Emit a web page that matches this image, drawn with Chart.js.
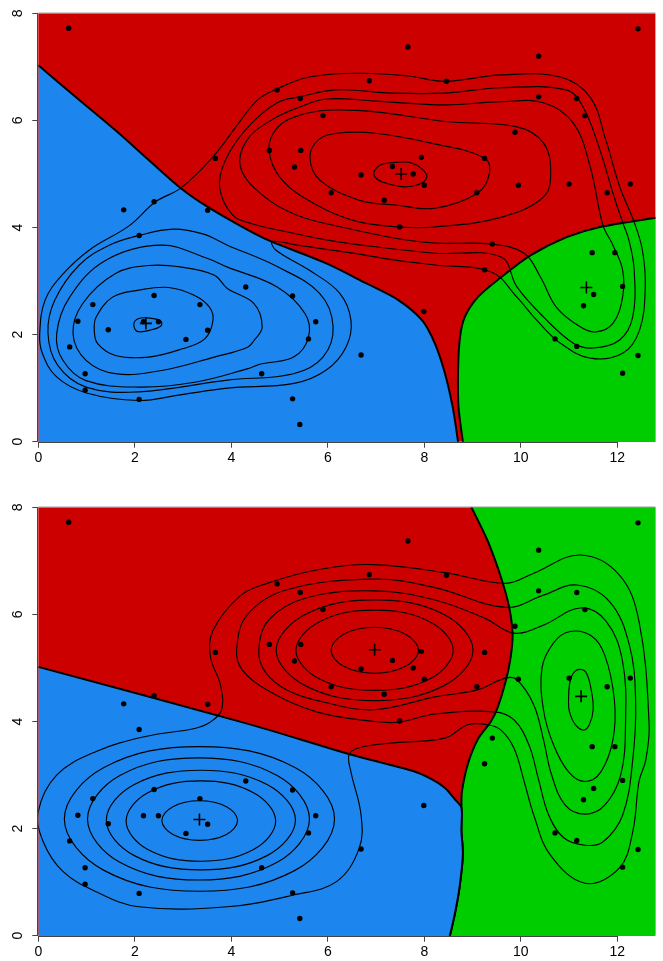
<!DOCTYPE html>
<html><head><meta charset="utf-8">
<script src="https://cdn.jsdelivr.net/npm/chart.js@4.4.1/dist/chart.umd.min.js"></script>
<style>
html,body{margin:0;padding:0;background:#fff;width:663px;height:961px;overflow:hidden}
canvas{position:absolute;left:0}
#c1{top:0}#c2{top:494px}
</style></head><body>
<canvas id="c1" width="663" height="494"></canvas>
<canvas id="c2" width="663" height="467"></canvas>
<script>
// ---------- tick labels ----------
const xTicks=[0,2,4,6,8,10,12];
const yTicks=[0,2,4,6,8];
// ---------- observations ----------
const observationsX=[0.63,7.66,10.37,12.43,4.95,6.86,5.43,5.90,4.79,5.44,5.31,6.69,7.34,7.77,7.94,8.00,6.07,7.17,7.49,8.46,10.37,11.16,11.33,9.88,9.25,9.09,9.95,11.00,11.79,12.27,3.67,2.40,1.77,3.51,2.09,2.40,1.13,3.35,0.82,2.18,2.49,1.45,3.51,3.06,0.65,0.97,0.97,2.09,4.30,5.27,5.75,5.60,6.69,4.63,5.27,5.42,7.99,9.41,9.25,11.48,11.95,12.11,11.51,11.30,10.71,11.16,12.43,12.11];
const observationsY=[7.72,7.37,7.20,7.71,6.57,6.74,6.41,6.09,5.44,5.44,5.13,4.98,5.14,5.00,5.31,4.79,4.65,4.51,4.01,6.73,6.44,6.41,6.09,5.78,5.29,4.65,4.79,4.81,4.65,4.81,5.29,4.48,4.33,4.32,3.85,2.73,2.56,2.56,2.25,2.24,2.24,2.09,2.08,1.91,1.77,1.27,0.96,0.79,2.89,2.72,2.24,1.92,1.62,1.27,0.80,0.32,2.43,3.69,3.21,3.53,3.53,2.90,2.75,2.54,1.92,1.78,1.61,1.28];
// ---------- class centres ----------
const topMeans=[[2.23,2.21],[7.52,5.00],[11.36,2.88]];
const botMeans=[[3.34,2.17],[6.97,5.34],[11.25,4.47]];
// ---------- region boundaries (top panel) ----------
const topBlueEdge=[[0,7.03],[0.85,6.38],[1.67,5.76],[2.29,5.26],[2.96,4.73],[3.52,4.38],[4.33,3.96],[4.80,3.75],[5.97,3.33],[6.79,2.96],[7.47,2.64],[7.96,2.26],[8.22,1.83],[8.43,1.27],[8.59,0.64],[8.70,0],[8.71,-0.05]];
const topGreenEdge=[[12.85,4.19],[11.64,4.01],[10.95,3.82],[10.20,3.48],[9.59,3.07],[9.11,2.70],[8.84,2.33],[8.74,1.95],[8.70,1.33],[8.71,0.64],[8.80,0],[8.81,-0.05]];
// ---------- region boundaries (bottom panel) ----------
const botBlueEdge=[[0,5.02],[4.33,3.96],[6.45,3.39],[7.75,3.08],[8.16,2.92],[8.43,2.76],[8.64,2.54],[8.77,2.39],[8.77,1.95],[8.80,1.52],[8.73,0.90],[8.63,0.39],[8.53,0],[8.52,-0.05]];
const botGreenEdge=[[8.95,8.05],[9.31,7.38],[9.59,6.69],[9.76,6.13],[9.83,5.63],[9.79,5.20],[9.69,4.76],[9.52,4.26],[9.38,4.00],[9.11,3.67],[8.90,3.20],[8.78,2.69],[8.77,2.39],[8.77,1.95],[8.80,1.52],[8.73,0.90],[8.63,0.39],[8.53,0],[8.52,-0.05]];
// ---------- contours (top panel) ----------
const topB1=[[1.98,2.20],[2.08,2.30],[2.29,2.31],[2.53,2.26],[2.55,2.17],[2.35,2.09],[2.05,2.06]];
const topB2=[[1.20,2.33],[1.54,2.70],[2.08,2.83],[2.70,2.88],[3.24,2.73],[3.55,2.51],[3.62,2.26],[3.45,1.92],[2.97,1.73],[2.29,1.58],[1.60,1.61],[1.23,1.83],[1.16,2.08]];
const topB3=[[0.72,2.01],[0.99,1.52],[1.60,1.27],[2.56,1.33],[3.65,1.58],[4.33,1.76],[4.47,1.89],[4.64,2.14],[4.47,2.58],[3.92,2.86],[3.65,3.11],[2.97,3.26],[2.29,3.29],[1.60,3.14],[0.92,2.58]];
const topB4=[[0.38,2.01],[0.51,1.52],[0.99,1.14],[2.08,1.02],[3.24,1.11],[4.33,1.36],[4.61,1.45],[5.29,1.58],[5.60,1.95],[5.53,2.39],[4.95,2.89],[3.92,3.26],[3.51,3.42],[2.56,3.67],[1.40,3.39],[0.65,2.70]];
const topB5=[[0.20,2.03],[0.40,1.43],[0.99,1.02],[2.08,0.93],[3.92,1.15],[5.29,1.27],[5.90,1.58],[6.11,2.15],[5.83,2.77],[4.95,3.27],[3.92,3.67],[3.41,3.88],[2.80,3.97],[2.08,3.85],[1.47,3.67],[0.85,3.30],[0.34,2.64]];
const topL1=[[0.03,2.03],[0.14,2.64],[0.49,3.11],[1.06,3.58],[1.88,4.03],[2.43,4.48],[2.96,4.74],[3.62,5.32],[4.13,5.92],[4.54,6.38],[4.95,6.59],[5.62,6.81],[6.65,6.88],[7.67,6.83],[8.43,6.73],[9.59,6.85],[10.82,6.81],[11.44,6.43],[11.76,5.64],[12.05,4.76],[12.35,4.10],[12.52,3.58],[12.58,2.89],[12.46,2.08],[12.11,1.65],[11.44,1.56],[10.82,1.84],[10.33,2.27],[9.92,2.70],[9.39,3.17],[8.22,3.30],[7.40,3.39],[6.38,3.54],[5.36,3.67],[4.85,3.74],[4.92,3.58],[5.62,3.20],[6.24,2.78],[6.48,2.27],[6.38,1.77],[5.97,1.34],[5.30,1.09],[3.92,1.00],[2.90,0.87],[2.08,0.77],[1.00,0.91],[0.38,1.21],[0.08,1.66]];
const topL2=[[4.03,4.23],[3.76,4.74],[3.88,5.26],[4.33,5.86],[4.95,6.33],[5.42,6.44],[6.18,6.57],[7.34,6.51],[8.43,6.51],[9.59,6.61],[10.94,6.57],[11.29,6.25],[11.64,5.45],[11.91,4.64],[12.11,4.10],[12.24,3.77],[12.35,3.21],[12.32,2.33],[12.05,1.90],[11.50,1.75],[11.09,1.84],[10.47,2.33],[9.92,2.89],[9.59,3.45],[8.22,3.52],[6.99,3.64],[5.97,3.77],[5.15,3.92],[4.43,4.07]];
const topL3=[[4.19,5.13],[4.33,5.64],[4.84,6.01],[5.36,6.23],[5.97,6.40],[6.99,6.36],[8.43,6.29],[9.59,6.35],[10.47,6.33],[11.09,5.95],[11.44,5.13],[11.70,4.05],[11.91,3.67],[12.11,3.21],[12.11,2.70],[11.91,2.21],[11.56,2.05],[11.24,2.14],[10.74,2.51],[10.41,3.07],[10.07,3.52],[9.39,3.69],[8.22,3.71],[7.40,3.80],[6.38,3.99],[5.36,4.23],[4.64,4.61]];
const topL4=[[4.78,5.45],[4.95,5.86],[5.36,6.08],[5.97,6.19],[6.99,6.16],[8.43,5.98],[9.92,5.88],[10.47,5.58],[10.62,5.02],[10.47,4.57],[9.59,4.19],[8.22,4.01],[7.49,4.01],[6.58,4.12],[5.77,4.42],[5.05,4.89]];
const topL5=[[5.63,5.32],[5.81,5.64],[6.18,5.76],[6.99,5.76],[8.16,5.57],[9.25,5.30],[9.35,5.01],[9.10,4.64],[8.22,4.36],[7.40,4.42],[6.65,4.51],[5.83,4.89]];
const topL6=[[6.96,5.04],[7.10,5.17],[7.34,5.21],[7.75,5.20],[8.05,4.98],[7.95,4.83],[7.61,4.76],[7.20,4.83],[7.00,4.92]];
// ---------- contours (bottom panel) ----------
const botB1=[[4.13,2.15],[3.90,2.41],[3.34,2.52],[2.79,2.41],[2.56,2.15],[2.79,1.89],[3.34,1.78],[3.90,1.89]];
const botB2=[[4.92,2.14],[4.46,2.67],[3.37,2.89],[2.27,2.67],[1.82,2.14],[2.27,1.61],[3.37,1.39],[4.46,1.61]];
const botB3=[[5.33,2.16],[4.75,2.82],[3.37,3.09],[1.98,2.82],[1.41,2.16],[1.98,1.50],[3.37,1.23],[4.75,1.50]];
const botB4=[[5.62,2.18],[4.95,2.99],[3.32,3.32],[1.69,2.99],[1.02,2.18],[1.69,1.37],[3.32,1.04],[4.95,1.37]];
const botB5=[[6.14,2.18],[5.32,3.14],[3.34,3.53],[1.36,3.14],[0.54,2.18],[1.36,1.22],[3.34,0.83],[5.32,1.22]];
const botR4=[[9.01,5.33],[8.41,6.00],[6.97,6.27],[5.53,6.00],[4.93,5.33],[5.53,4.67],[6.97,4.39],[8.41,4.67]];
const botR5=[[8.60,5.33],[8.12,5.86],[6.97,6.08],[5.82,5.86],[5.34,5.33],[5.82,4.80],[6.97,4.58],[8.12,4.80]];
const botR6=[[7.88,5.33],[7.61,5.63],[6.97,5.76],[6.33,5.63],[6.07,5.33],[6.33,5.03],[6.97,4.90],[7.61,5.03]];
const botG4=[[10.44,5.00],[10.68,5.47],[11.02,5.68],[11.46,5.60],[11.74,5.24],[11.94,4.40],[11.91,3.66],[11.66,3.06],[11.33,2.88],[10.99,3.06],[10.68,3.56],[10.47,4.22]];
const botG5=[[10.99,4.40],[11.03,4.78],[11.16,4.96],[11.34,4.93],[11.46,4.59],[11.50,4.22],[11.42,3.94],[11.30,3.84],[11.13,3.94],[11.01,4.18]];
const botL1=[[0,2.32],[0.38,3.00],[1.20,3.44],[2.22,3.72],[3.24,3.87],[3.55,3.98],[3.80,4.22],[3.77,4.70],[3.57,5.20],[3.62,5.70],[4.19,6.35],[4.74,6.58],[5.77,6.83],[6.93,6.93],[8.43,6.78],[9.69,6.58],[10.27,6.77],[11.23,7.11],[12.04,6.74],[12.45,5.87],[12.66,3.94],[12.59,3.28],[12.45,2.88],[12.32,1.94],[12.04,1.26],[11.33,0.98],[10.61,1.51],[10.27,2.25],[10.07,2.88],[9.86,3.50],[9.59,3.84],[9.31,3.94],[8.90,3.94],[8.43,3.69],[7.34,3.60],[6.65,3.51],[6.44,3.38],[6.48,3.06],[6.69,2.25],[6.65,1.63],[6.18,1.01],[5.29,0.76],[3.92,0.54],[2.08,0.54],[1.20,0.82],[0.51,1.20],[0.10,1.76]];
const botL2=[[4.11,5.34],[4.33,5.99],[5.15,6.46],[6.97,6.66],[8.22,6.50],[9.69,6.13],[10.47,6.36],[11.16,6.55],[11.84,6.24],[12.25,5.43],[12.38,4.40],[12.32,3.28],[12.11,2.25],[11.70,1.75],[11.33,1.69],[10.89,1.83],[10.58,2.25],[10.37,2.91],[10.17,3.56],[9.86,4.03],[9.45,4.18],[8.22,4.14],[7.49,3.99],[6.97,4.00],[5.77,4.18],[4.74,4.59],[4.23,4.96]];
const botL3=[[4.57,5.34],[4.78,5.90],[5.56,6.31],[6.97,6.44],[8.22,6.27],[9.25,5.93],[9.86,5.65],[10.47,5.80],[11.23,6.12],[11.77,5.87],[12.11,5.12],[12.17,3.94],[12.07,3.00],[11.74,2.44],[11.33,2.27],[10.92,2.44],[10.64,3.00],[10.47,3.66],[10.27,4.31],[9.92,4.78],[9.68,4.81],[9.10,4.59],[8.22,4.46],[6.97,4.22],[5.97,4.35],[5.15,4.59],[4.70,4.93]];

const COLORS={red:'#CD0000',blue:'#1C86EE',green:'#00CD00'};
const toXY=a=>a.map(p=>({x:p[0],y:p[1]}));

const closePlugin={id:'closeLoops',afterDatasetUpdate(chart,args){
  const ds=chart.data.datasets[args.index];
  if(ds&&ds.closed&&args.meta.dataset){args.meta.dataset._loop=true;args.meta.dataset._fullLoop=true;}
}};
const decoPlugin={id:'deco',
  beforeDatasetsDraw(chart){const {ctx,chartArea:a}=chart;ctx.save();ctx.fillStyle=COLORS.red;ctx.fillRect(a.left,a.top,a.right-a.left,a.bottom-a.top);ctx.restore();},
  afterDraw(chart){
    const {ctx,chartArea:a,scales}=chart;const sx=scales.x,sy=scales.y;
    ctx.save();
    ctx.strokeStyle='#bcbcbc';ctx.lineWidth=1;ctx.beginPath();ctx.moveTo(a.left,a.top-0.5);ctx.lineTo(a.right,a.top-0.5);ctx.stroke();
    ctx.strokeStyle='#444';ctx.lineWidth=1;ctx.beginPath();
    const bx=Math.round(a.bottom)+0.5;
    ctx.moveTo(sx.getPixelForValue(xTicks[0]),bx);ctx.lineTo(sx.getPixelForValue(xTicks[xTicks.length-1]),bx);
    const lx=Math.round(a.left)-0.5;
    ctx.moveTo(lx,sy.getPixelForValue(yTicks[0]));ctx.lineTo(lx,sy.getPixelForValue(yTicks[yTicks.length-1]));
    ctx.stroke();
    ctx.fillStyle='#000';ctx.font='14px "Liberation Sans", Arial, sans-serif';
    ctx.textAlign='center';ctx.textBaseline='alphabetic';
    xTicks.forEach(v=>ctx.fillText(String(v),sx.getPixelForValue(v),a.bottom+20.6));
    yTicks.forEach(v=>{ctx.save();ctx.translate(21.5,sy.getPixelForValue(v));ctx.rotate(-Math.PI/2);ctx.fillText(String(v),0,0);ctx.restore();});
    ctx.restore();
  }
};

function makeChart(id,H,regions,contours,means){
  const datasets=[];
  datasets.push({type:'scatter',data:observationsX.map((x,i)=>({x,y:observationsY[i]})),pointRadius:2.7,backgroundColor:'#000',borderColor:'#000',borderWidth:0,order:0});
  datasets.push({type:'scatter',data:toXY(means),pointStyle:'cross',pointRadius:6,borderColor:'#000',backgroundColor:'#000',borderWidth:1.6,order:1});
  contours.forEach(c=>datasets.push({type:'line',data:toXY(c),closed:true,borderColor:'#000',borderWidth:1.15,pointRadius:0,tension:0.38,fill:false,order:2}));
  regions.forEach(r=>datasets.push({type:'line',indexAxis:'y',data:toXY(r.pts),borderColor:'#000',borderWidth:2,pointRadius:0,tension:0.3,backgroundColor:r.color,fill:{target:{value:r.to}},order:3}));
  const gridOpts={display:true,drawOnChartArea:false,drawTicks:true,tickLength:6,color:'#444',lineWidth:1};
  return new Chart(document.getElementById(id),{
    type:'scatter',
    data:{datasets},
    options:{responsive:false,animation:false,devicePixelRatio:1,events:[],
      layout:{padding:{top:13.3,left:0,right:0,bottom:0}},
      plugins:{legend:{display:false},tooltip:{enabled:false}},
      scales:{
        x:{type:'linear',min:0,max:12.79,afterFit:s=>{s.height=H-441.7;},afterBuildTicks:s=>{s.ticks=xTicks.map(v=>({value:v}));},ticks:{display:false},grid:gridOpts,border:{display:false}},
        y:{type:'linear',min:0,max:8,afterFit:s=>{s.width=38.3;},afterBuildTicks:s=>{s.ticks=yTicks.map(v=>({value:v}));},ticks:{display:false},grid:gridOpts,border:{display:false}}
      }
    },
    plugins:[closePlugin,decoPlugin]
  });
}

makeChart('c1',494,
  [{pts:topBlueEdge,color:COLORS.blue,to:0},{pts:topGreenEdge,color:COLORS.green,to:13}],
  [topB1,topB2,topB3,topB4,topB5,topL1,topL2,topL3,topL4,topL5,topL6],
  topMeans);
makeChart('c2',467,
  [{pts:botBlueEdge,color:COLORS.blue,to:0},{pts:botGreenEdge,color:COLORS.green,to:13}],
  [botB1,botB2,botB3,botB4,botB5,botR4,botR5,botR6,botG4,botG5,botL1,botL2,botL3],
  botMeans);
</script>
</body></html>
